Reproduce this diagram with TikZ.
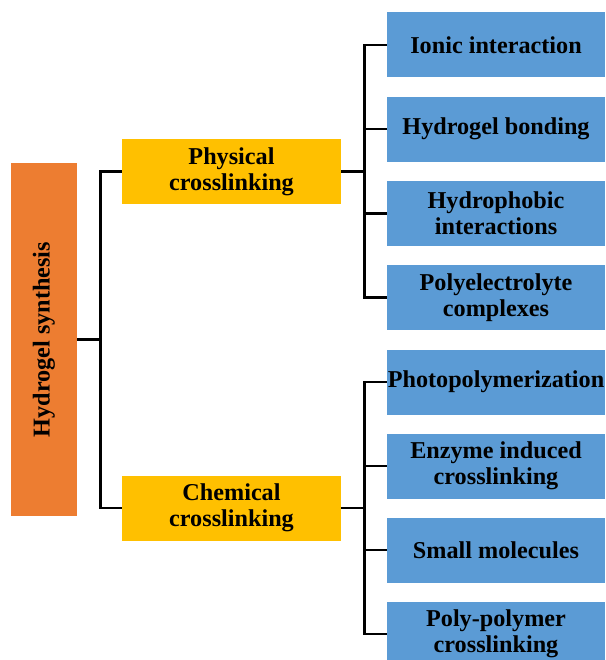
\documentclass[tikz,border=0pt]{standalone}
\usepackage{fontspec}
\setmainfont{Liberation Serif}

\begin{document}
\begin{tikzpicture}[
    x=1pt, y=-1pt,
    every node/.style={font=\bfseries\fontsize{24.2}{26}\selectfont, align=center, inner sep=0pt},
    rootbox/.style={fill=rootcolor, minimum width=353pt, minimum height=66pt},
    groupbox/.style={fill=groupcolor, minimum width=219pt, minimum height=65pt},
    leafbox/.style={fill=leafcolor, minimum width=218pt, minimum height=65pt},
    link/.style={draw=black, line width=2.6pt},
]

\definecolor{rootcolor}{HTML}{ED7D31}    % the whole topic
\definecolor{groupcolor}{HTML}{FFC000}   % the two kinds of crosslinking
\definecolor{leafcolor}{HTML}{5B9BD5}    % the methods under each kind

% ================================================================
%   one unit = one pixel of the 605 x 660 reference, y runs down
%   root     x 11..77      groups   x 122..341     leaves   x 387..605
%   buses    x 100 and x 364
% ================================================================
\useasboundingbox (0,0) rectangle (605,660);

% ---------------------------------------------------------------- root
\node[rootbox, rotate=90] (synth) at (44,339.5) {Hydrogel synthesis};

% ---------------------------------------------------------------- groups
\node[groupbox] (phys) at (231.5,171.5) {Physical\\crosslinking};
\node[groupbox] (chem) at (231.5,508) {Chemical\\crosslinking};

% ---------------------------------------------------------------- leaves
\foreach \i/\txt in {1/Ionic interaction, 2/Hydrogel bonding,
                     3/Hydrophobic\\interactions, 4/Polyelectrolyte\\complexes} {
    \node[leafbox] (phys\i) at ({496},{45+84.2*(\i-1)}) {\txt};
}
\foreach \i/\txt in {1/Photopolymerization, 2/Enzyme induced\\crosslinking,
                     3/Small molecules, 4/Poly-polymer\\crosslinking} {
    \node[leafbox] (chem\i) at ({496},{382+84*(\i-1)}) {\txt};
}

% ---------------------------------------------------------------- links
% rotated root: its south anchor is the right-hand side
\draw[link] (synth.south) -- ++(23,0) |- (phys.west);
\draw[link] (synth.south) -- ++(23,0) |- (chem.west);
\foreach \i in {1,...,4} {
    \draw[link] (phys.east) -- ++(23,0) |- (phys\i.west);
    \draw[link] (chem.east) -- ++(23,0) |- (chem\i.west);
}

\end{tikzpicture}
\end{document}
